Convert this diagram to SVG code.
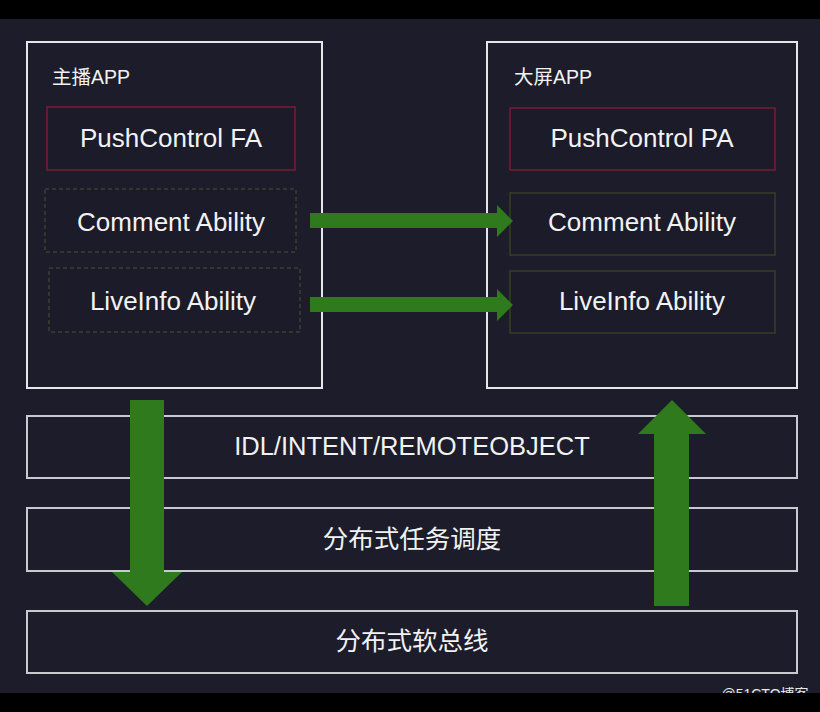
<svg xmlns="http://www.w3.org/2000/svg" width="820" height="712" viewBox="0 0 820 712">
<style>
.app{fill:none;stroke:#e6e6ea;stroke-width:2}
.red{fill:#1b1b29;stroke:#7c1a36;stroke-width:1.5}
.dash{fill:#1b1b29;stroke:#3b4030;stroke-width:1.5;stroke-dasharray:4 3}
.olive{fill:#1b1b29;stroke:#363f24;stroke-width:1.5}
.layer{fill:none;stroke:#c9c9d2;stroke-width:2}
.t{font-family:"Liberation Sans","Noto Sans CJK SC",sans-serif;fill:#f2f2f2;text-anchor:middle}
.big{font-size:26px}
.lay{font-size:25.5px}
.lab{font-family:"Liberation Sans","Noto Sans CJK SC",sans-serif;fill:#f2f2f2;font-size:19.5px}
.arrow{fill:#2e7a1d}
</style>
<rect x="0" y="0" width="820" height="712" fill="#1c1c2a"/>
<g id="node-host-app">
<rect class="app" x="27" y="42" width="295" height="346"/>
<text class="lab" x="52" y="84">主播APP</text>
</g>
<g id="node-pushcontrol-fa">
<rect class="red" x="47" y="107" width="248" height="63"/>
<text class="t big" x="171" y="147">PushControl FA</text>
</g>
<g id="node-comment-left">
<rect class="dash" x="45" y="189" width="251" height="63"/>
<text class="t big" x="171" y="231">Comment Ability</text>
</g>
<g id="node-liveinfo-left">
<rect class="dash" x="49" y="268" width="251" height="64"/>
<text class="t big" x="173" y="310">LiveInfo Ability</text>
</g>
<g id="node-screen-app">
<rect class="app" x="487" y="42" width="310" height="346"/>
<text class="lab" x="514" y="84">大屏APP</text>
</g>
<g id="node-pushcontrol-pa">
<rect class="red" x="510" y="108" width="265" height="62"/>
<text class="t big" x="642" y="147">PushControl PA</text>
</g>
<g id="node-comment-right">
<rect class="olive" x="510" y="193" width="265" height="62"/>
<text class="t big" x="642" y="231">Comment Ability</text>
</g>
<g id="node-liveinfo-right">
<rect class="olive" x="510" y="271" width="265" height="62"/>
<text class="t big" x="642" y="310">LiveInfo Ability</text>
</g>
<g id="node-idl">
<rect class="layer" x="27" y="416" width="770" height="62"/>
<text class="t lay" x="412" y="455">IDL/INTENT/REMOTEOBJECT</text>
</g>
<g id="node-scheduler">
<rect class="layer" x="27" y="508" width="770" height="63"/>
<text class="t lay" x="412" y="548">分布式任务调度</text>
</g>
<g id="node-softbus">
<rect class="layer" x="27" y="611" width="770" height="62"/>
<text class="t lay" x="412" y="650">分布式软总线</text>
</g>
<g id="connectors">
<polygon class="arrow" points="310,213 497,213 497,205 513,221 497,237 497,228 310,228"/>
<polygon class="arrow" points="310,297 497,297 497,289 513,305 497,321 497,312 310,312"/>
<polygon class="arrow" points="130,400 164,400 164,572 182,572 147,606 112,572 130,572"/>
<polygon class="arrow" points="654,606 689,606 689,434 706,434 672,400 638,434 654,434"/>
</g>
<text x="765" y="699" font-family="Liberation Sans,Noto Sans CJK SC,sans-serif" font-size="14" fill="#e8e8e8" text-anchor="middle">@51CTO博客</text>
<rect x="0" y="0" width="820" height="19" fill="#000"/>
<rect x="0" y="693" width="820" height="19" fill="#000"/>
</svg>
